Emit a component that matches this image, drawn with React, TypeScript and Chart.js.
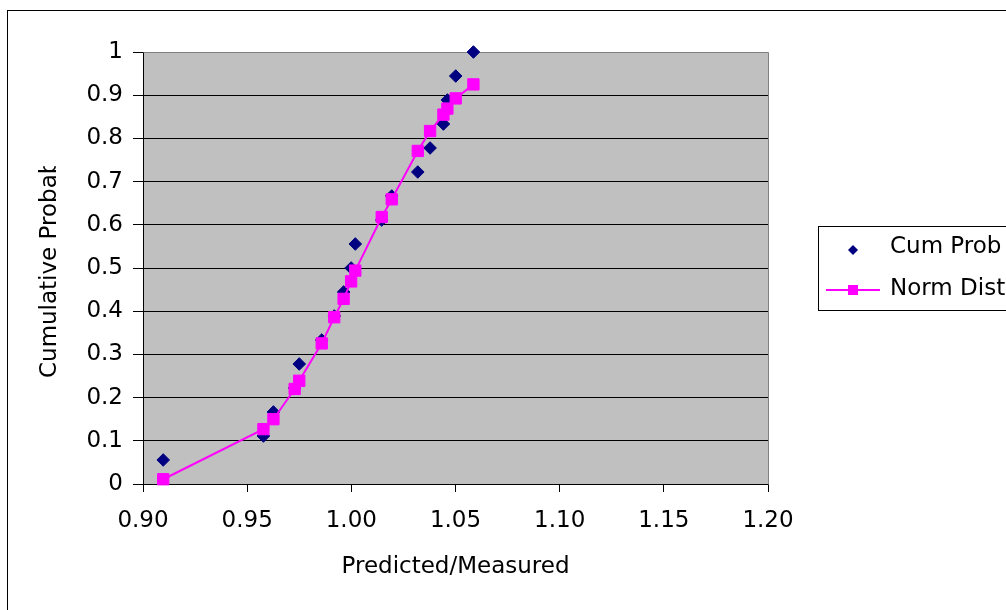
import React, { useEffect, useRef } from "react";
import { Chart, registerables } from "chart.js";

Chart.register(...registerables);

// ---- data ----
const ratioValues = [
  0.9097, 0.9578, 0.9626, 0.9728, 0.975, 0.9858, 0.9918, 0.9963, 0.9999,
  1.0019, 1.0146, 1.0194, 1.0319, 1.0378, 1.0442, 1.0461, 1.0501, 1.0586,
];
const cumProb = [
  0.0556, 0.1111, 0.1667, 0.2222, 0.2778, 0.3333, 0.3889, 0.4444, 0.5,
  0.5556, 0.6111, 0.6667, 0.7222, 0.7778, 0.8333, 0.8889, 0.9444, 1.0,
];
const normDist = [
  0.011, 0.127, 0.15, 0.22, 0.239, 0.3255, 0.386, 0.4285, 0.469,
  0.494, 0.618, 0.659, 0.771, 0.817, 0.855, 0.869, 0.8926, 0.925,
];
const seriesNames = ["Cum Prob", "Norm Dist"];
const xTitle = "Predicted/Measured";
const yTitle = "Cumulative Probability";
const xTickLabels = ["0.90", "0.95", "1.00", "1.05", "1.10", "1.15", "1.20"];
const yTickLabels = ["0", "0.1", "0.2", "0.3", "0.4", "0.5", "0.6", "0.7", "0.8", "0.9", "1"];

const FONT = "'DejaVu Sans', 'Liberation Sans', Arial, sans-serif";
const FS = 23;
const NAVY = "#000080";
const MAGENTA = "#FF00FF";

const decorPlugin = {
  id: "decor",
  beforeDraw(chart: any) {
    const { ctx, chartArea: a } = chart;
    ctx.save();
    ctx.fillStyle = "#ffffff";
    ctx.fillRect(0, 0, chart.width, chart.height);
    ctx.fillStyle = "#C0C0C0";
    ctx.fillRect(a.left, a.top, a.right - a.left, a.bottom - a.top);
    ctx.restore();
  },
  beforeDatasetsDraw(chart: any) {
    const { ctx, chartArea: a } = chart;
    ctx.save();
    ctx.strokeStyle = "#808080";
    ctx.lineWidth = 1;
    ctx.beginPath();
    ctx.moveTo(Math.round(a.left) + 0.5, Math.round(a.top) + 0.5);
    ctx.lineTo(Math.round(a.right) + 0.5, Math.round(a.top) + 0.5);
    ctx.lineTo(Math.round(a.right) + 0.5, Math.round(a.bottom) + 0.5);
    ctx.stroke();
    ctx.restore();
  },
  afterDraw(chart: any) {
    const { ctx, chartArea: a } = chart;
    ctx.save();
    // outer chart border
    ctx.strokeStyle = "#000";
    ctx.lineWidth = 1;
    ctx.strokeRect(7.5, 10.5, 1200, 800);

    ctx.fillStyle = "#000";
    ctx.font = `${FS}px ${FONT}`;
    // x title
    ctx.textAlign = "center";
    ctx.textBaseline = "middle";
    ctx.fillText(xTitle, (a.left + a.right) / 2, 567);

    // y title, cut off inside its box like the reference
    const startY = 378;
    const shown = ctx.measureText("Cumulative Proba").width;
    const bW = ctx.measureText("b").width;
    const clipTop = startY - shown - bW * 0.55;
    ctx.save();
    ctx.beginPath();
    ctx.rect(0, clipTop, 140, startY - clipTop + 20);
    ctx.clip();
    ctx.translate(50, startY);
    ctx.rotate(-Math.PI / 2);
    ctx.textAlign = "left";
    ctx.textBaseline = "middle";
    ctx.fillText(yTitle, 0, 0);
    ctx.restore();

    // legend
    ctx.strokeStyle = "#000";
    ctx.lineWidth = 1;
    ctx.strokeRect(818.5, 226.5, 400, 84);
    // row 1 diamond
    ctx.fillStyle = NAVY;
    ctx.beginPath();
    ctx.moveTo(853, 245);
    ctx.lineTo(858, 250);
    ctx.lineTo(853, 255);
    ctx.lineTo(848, 250);
    ctx.closePath();
    ctx.fill();
    // row 2 line + square
    ctx.strokeStyle = MAGENTA;
    ctx.lineWidth = 2;
    ctx.beginPath();
    ctx.moveTo(826, 290);
    ctx.lineTo(880, 290);
    ctx.stroke();
    ctx.fillStyle = MAGENTA;
    ctx.fillRect(848, 285, 10, 10);
    // legend text
    ctx.fillStyle = "#000";
    ctx.textAlign = "left";
    ctx.textBaseline = "middle";
    ctx.fillText(seriesNames[0], 890, 247);
    ctx.fillText(seriesNames[1], 890, 289);
    ctx.restore();
  },
};

export default function App() {
  const ref = useRef<HTMLCanvasElement | null>(null);
  useEffect(() => {
    if (!ref.current) return;
    const chart = new Chart(ref.current, {
      type: "scatter",
      data: {
        datasets: [
          {
            label: seriesNames[0],
            data: ratioValues.map((x, i) => ({ x, y: cumProb[i] })),
            pointStyle: "rectRot",
            pointRadius: 6.3,
            pointBorderWidth: 1,
            backgroundColor: NAVY,
            borderColor: NAVY,
            showLine: false,
            order: 1,
            clip: false,
          },
          {
            label: seriesNames[1],
            data: ratioValues.map((x, i) => ({ x, y: normDist[i] })),
            pointStyle: "rect",
            pointRadius: 8,
            pointBorderWidth: 1,
            backgroundColor: MAGENTA,
            borderColor: MAGENTA,
            borderWidth: 2,
            showLine: true,
            tension: 0,
            order: 0,
            clip: false,
          },
        ],
      },
      options: {
        animation: false,
        responsive: false,
        devicePixelRatio: 1,
        layout: { padding: { left: 83, top: 52, right: 238, bottom: 66 } },
        plugins: { legend: { display: false }, tooltip: { enabled: false } },
        scales: {
          x: {
            type: "linear",
            min: 0.9,
            max: 1.2,
            ticks: {
              stepSize: 0.05,
              autoSkip: false,
              maxRotation: 0,
              padding: 15,
              color: "#000",
              font: { family: FONT, size: FS },
              callback: (v: any) => {
                const i = Math.round((Number(v) - 0.9) / 0.05);
                return xTickLabels[i] ?? Number(v).toFixed(2);
              },
            },
            grid: {
              display: true,
              drawOnChartArea: false,
              drawTicks: true,
              tickLength: 8,
              tickColor: "#000",
              color: "#000",
            },
            border: { display: true, color: "#000", width: 1 },
            afterFit: (s: any) => {
              s.height = 60;
            },
          },
          y: {
            type: "linear",
            min: 0,
            max: 1,
            ticks: {
              stepSize: 0.1,
              padding: 10,
              color: "#000",
              font: { family: FONT, size: FS },
              callback: (v: any) => {
                const i = Math.round(Number(v) * 10);
                return yTickLabels[i] ?? String(v);
              },
            },
            grid: {
              color: (c: any) =>
                c.tick && c.tick.value > 0.999 ? "#808080" : "#000",
              lineWidth: 1,
              tickLength: 10,
              tickColor: "#000",
            },
            border: { display: true, color: "#000", width: 1 },
            afterFit: (s: any) => {
              s.width = 60;
            },
          },
        },
      },
      plugins: [decorPlugin],
    });
    return () => chart.destroy();
  }, []);
  return (
    <div style={{ position: "absolute", left: 0, top: 0, width: 1006, height: 610 }}>
      <canvas ref={ref} width={1006} height={610} style={{ display: "block", width: 1006, height: 610 }} />
    </div>
  );
}
